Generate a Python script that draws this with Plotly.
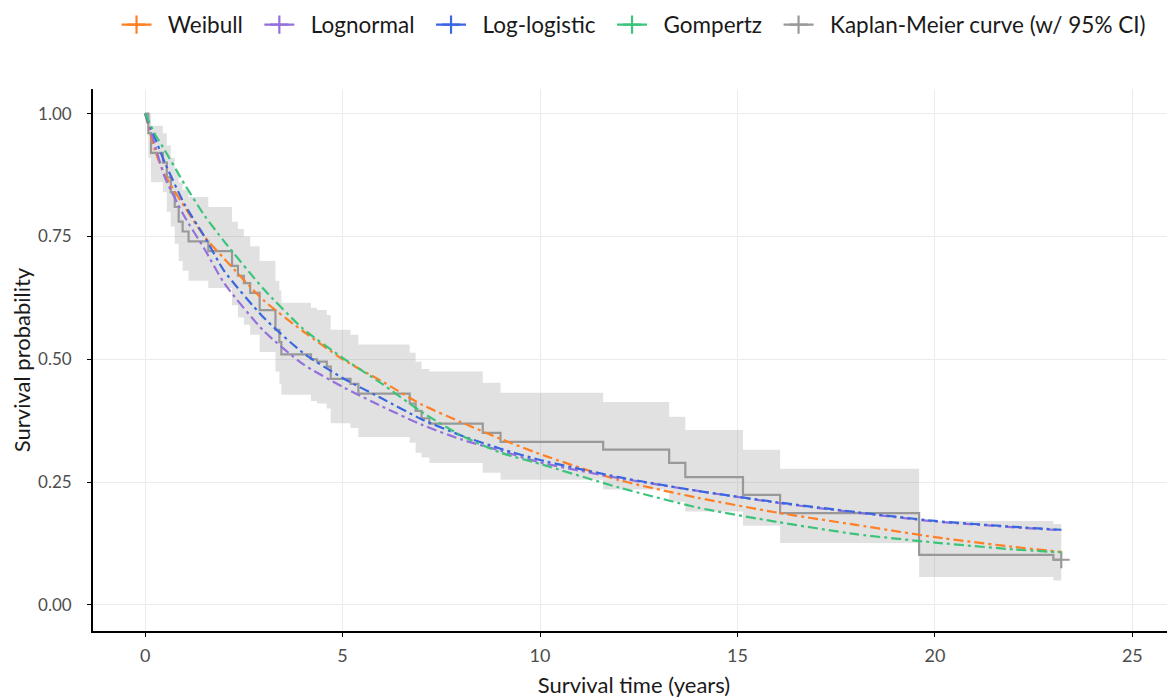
import plotly.graph_objects as go

# ---------------- data ----------------
time_grid = [0, 0.25, 0.5, 1, 1.5, 2, 3, 4, 5, 6, 7, 8, 9, 10, 12, 14, 16, 18, 20, 22, 23.2]
weibull = [1.0, 0.925, 0.875, 0.81, 0.75, 0.705, 0.62, 0.557, 0.50, 0.455, 0.408, 0.372,
           0.338, 0.307, 0.254, 0.218, 0.188, 0.163, 0.138, 0.118, 0.108]
lognormal = [1.0, 0.935, 0.87, 0.79, 0.725, 0.655, 0.558, 0.49, 0.444, 0.404, 0.367, 0.337,
             0.314, 0.29, 0.258, 0.232, 0.208, 0.188, 0.17, 0.158, 0.152]
loglogistic = [1.0, 0.95, 0.90, 0.815, 0.75, 0.68, 0.585, 0.513, 0.462, 0.42, 0.378, 0.345,
               0.318, 0.295, 0.26, 0.232, 0.209, 0.189, 0.171, 0.159, 0.153]
gompertz = [1.0, 0.958, 0.925, 0.856, 0.793, 0.74, 0.643, 0.562, 0.503, 0.45, 0.393, 0.345,
            0.31, 0.287, 0.239, 0.198, 0.169, 0.144, 0.127, 0.113, 0.107]

km_time = [0, 0.08, 0.15, 0.45, 0.55, 0.65, 0.75, 0.85, 0.95, 1.1, 1.6, 2.2, 2.35, 2.5,
           2.66, 2.9, 3.3, 3.4, 3.45, 4.2, 4.35, 4.6, 4.7, 5.2, 5.4, 6.7, 6.85, 7.0, 7.2,
           8.55, 9.0, 11.6, 13.27, 13.68, 15.14, 16.08, 19.6, 23.0]
km_surv = [1.0, 0.96, 0.92, 0.90, 0.87, 0.84, 0.81, 0.78, 0.76, 0.74, 0.72, 0.69, 0.67, 0.655,
           0.635, 0.60, 0.56, 0.535, 0.51, 0.50, 0.495, 0.485, 0.46, 0.45, 0.43, 0.41, 0.395,
           0.38, 0.369, 0.35, 0.332, 0.316, 0.289, 0.26, 0.224, 0.187, 0.102, 0.092]
km_lower = [1.0, 0.91, 0.86, 0.84, 0.80, 0.77, 0.735, 0.70, 0.68, 0.66, 0.645, 0.61, 0.585,
            0.57, 0.55, 0.515, 0.475, 0.45, 0.428, 0.415, 0.41, 0.40, 0.37, 0.36, 0.342,
            0.33, 0.31, 0.30, 0.289, 0.269, 0.255, 0.235, 0.21, 0.19, 0.161, 0.126, 0.057, 0.05]
km_upper = [1.0, 1.0, 0.975, 0.96, 0.935, 0.91, 0.885, 0.86, 0.845, 0.83, 0.81, 0.78, 0.765,
            0.75, 0.73, 0.70, 0.66, 0.64, 0.615, 0.605, 0.60, 0.59, 0.56, 0.55, 0.53,
            0.513, 0.495, 0.48, 0.475, 0.452, 0.432, 0.413, 0.383, 0.356, 0.316, 0.277, 0.171, 0.165]
km_last_time = 23.2

series_names = ["Weibull", "Lognormal", "Log-logistic", "Gompertz"]
series_values = [weibull, lognormal, loglogistic, gompertz]
series_colors = ["#FF7F24", "#9370DB", "#3A66E0", "#3CC47A"]
km_color = "#999999"
band_color = "rgba(140,140,140,0.26)"
km_name = "Kaplan-Meier curve (w/ 95% CI)"

FONT = "Lato"
NBSP = "\u00a0"

fig = go.Figure()

# CI band (step)
band_x = km_time + [km_last_time]
fig.add_trace(go.Scatter(x=band_x, y=km_lower + [km_lower[-1]], mode="lines",
                         line=dict(width=0, shape="hv"), showlegend=False, hoverinfo="skip"))
fig.add_trace(go.Scatter(x=band_x, y=km_upper + [km_upper[-1]], mode="lines",
                         line=dict(width=0, shape="hv"), fill="tonexty", fillcolor=band_color,
                         showlegend=False, hoverinfo="skip"))

# KM step curve
fig.add_trace(go.Scatter(x=band_x, y=km_surv + [km_surv[-1]], mode="lines",
                         line=dict(color=km_color, width=2.2, shape="hv"), showlegend=False))
# censor mark at the end
fig.add_trace(go.Scatter(x=[km_last_time], y=[km_surv[-1]], mode="markers",
                         marker=dict(symbol="cross-thin", size=12,
                                     line=dict(color=km_color, width=2.2)),
                         showlegend=False))

# parametric fits
for name, vals, col in zip(series_names, series_values, series_colors):
    fig.add_trace(go.Scatter(x=time_grid, y=vals, mode="lines", name=name,
                             line=dict(color=col, width=2.2, dash="10px,4px,3px,4px",
                                       shape="spline", smoothing=0.6),
                             showlegend=False))

# legend entries (line + cross)
legend_labels = series_names + [km_name]
legend_colors = series_colors + [km_color]
for i, (name, col) in enumerate(zip(legend_labels, legend_colors)):
    label = NBSP * 2 + name + (NBSP * 2 if i < len(legend_labels) - 1 else "")
    fig.add_trace(go.Scatter(x=[None], y=[None], mode="lines+markers", name=label,
                             line=dict(color=col, width=2.2),
                             marker=dict(symbol="cross-thin", size=13, line=dict(color=col, width=2.2))))

fig.update_layout(
    width=1167, height=692,
    paper_bgcolor="white", plot_bgcolor="white",
    margin=dict(l=85, r=0, t=81, b=69),
    font=dict(family=FONT, color="#1a1a1a"),
    legend=dict(orientation="h", traceorder="normal", xref="container", yref="container",
                x=0.093, y=0.9754, xanchor="left", yanchor="middle",
                font=dict(size=22.5, family=FONT, color="#1a1a1a"),
                bgcolor="rgba(0,0,0,0)"),
    xaxis=dict(range=[-1.32, 26.08], tickmode="array", tickvals=[0, 5, 10, 15, 20, 25],
               ticktext=["0", "5", "10", "15", "20", "25"],
               showgrid=True, gridcolor="#EBEBEB", gridwidth=1.2, zeroline=False,
               showline=True, linecolor="black", linewidth=1.8,
               ticks="outside", ticklen=4, tickcolor="black", tickwidth=1.2,
               ticklabelstandoff=3,
               tickfont=dict(size=18, color="#4D4D4D", family=FONT),
               title=dict(text="Survival time (years)", font=dict(size=22, color="#1a1a1a", family=FONT),
                          standoff=13)),
    yaxis=dict(range=[-0.053, 1.05], tickmode="array", tickvals=[0, 0.25, 0.5, 0.75, 1.0],
               ticktext=["0.00", "0.25", "0.50", "0.75", "1.00"],
               showgrid=True, gridcolor="#EBEBEB", gridwidth=1.2, zeroline=False,
               showline=True, linecolor="black", linewidth=1.8,
               ticks="outside", ticklen=4, tickcolor="black", tickwidth=1.2,
               ticklabelstandoff=12,
               tickfont=dict(size=17, color="#4D4D4D", family=FONT),
               title=dict(text="Survival probability", font=dict(size=22, color="#1a1a1a", family=FONT),
                          standoff=2)),
)

fig.write_html("out.html")
